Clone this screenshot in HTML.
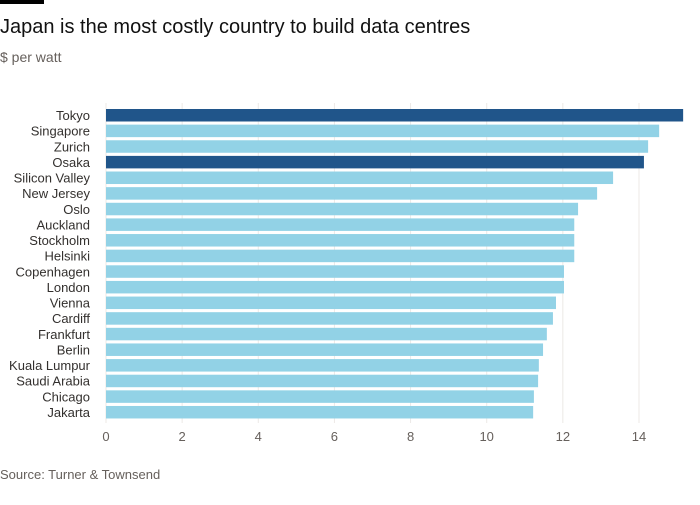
<!DOCTYPE html>
<html><head><meta charset="utf-8"><style>
body{margin:0;background:#fff;font-family:"Liberation Sans",sans-serif;}
svg text{font-family:"Liberation Sans",sans-serif;}
</style></head><body>
<svg width="700" height="500">
<rect x="0" y="0" width="44" height="4" fill="#000"/>
<text x="0" y="33" font-size="20" fill="#111">Japan is the most costly country to build data centres</text>
<text x="0" y="62" font-size="14" fill="#66605c">$ per watt</text>
<g id="grid"></g><g id="bars"></g><g id="labels"></g><g id="ticks"></g>
<text x="0" y="479" font-size="13" fill="#66605c">Source: Turner &amp; Townsend</text>
</svg>
<script>
const categories=["Tokyo","Singapore","Zurich","Osaka","Silicon Valley","New Jersey","Oslo","Auckland","Stockholm","Helsinki","Copenhagen","London","Vienna","Cardiff","Frankfurt","Berlin","Kuala Lumpur","Saudi Arabia","Chicago","Jakarta"];
const values=[15.16,14.53,14.24,14.13,13.32,12.9,12.4,12.3,12.3,12.3,12.03,12.03,11.82,11.74,11.58,11.48,11.37,11.35,11.24,11.22];
const highlighted=["Tokyo","Osaka"];
const tickValues=[0,2,4,6,8,10,12,14];
const NS="http://www.w3.org/2000/svg";
const x=v=>106+v*38.07;
const y=i=>109+i*15.63;
const mk=(t,a,p)=>{const e=document.createElementNS(NS,t);for(const k in a)e.setAttribute(k,a[k]);p.appendChild(e);return e;};
const grid=document.getElementById('grid'),bars=document.getElementById('bars'),labels=document.getElementById('labels'),ticks=document.getElementById('ticks');
tickValues.forEach(v=>{
 const l=mk('line',{x1:x(v),x2:x(v),y1:103,y2:423,stroke:'#ece9e6','stroke-width':1},grid);
 
 
 const t=mk('text',{x:x(v),y:441,'text-anchor':'middle','font-size':13,fill:'#66605c'},ticks);
 t.textContent=v;
 
 
});
categories.forEach((c,i)=>{
 const r=mk('rect',{x:x(0),y:y(i),width:x(values[i])-x(0),height:12.5,fill:highlighted.includes(c)?'#20558a':'#92d2e6'},bars);
 
 
 const t=mk('text',{x:90,y:y(i)+11,'text-anchor':'end','font-size':13,fill:'#33302e'},labels);
 t.textContent=c;
 
 
});
</script>
</body></html>
